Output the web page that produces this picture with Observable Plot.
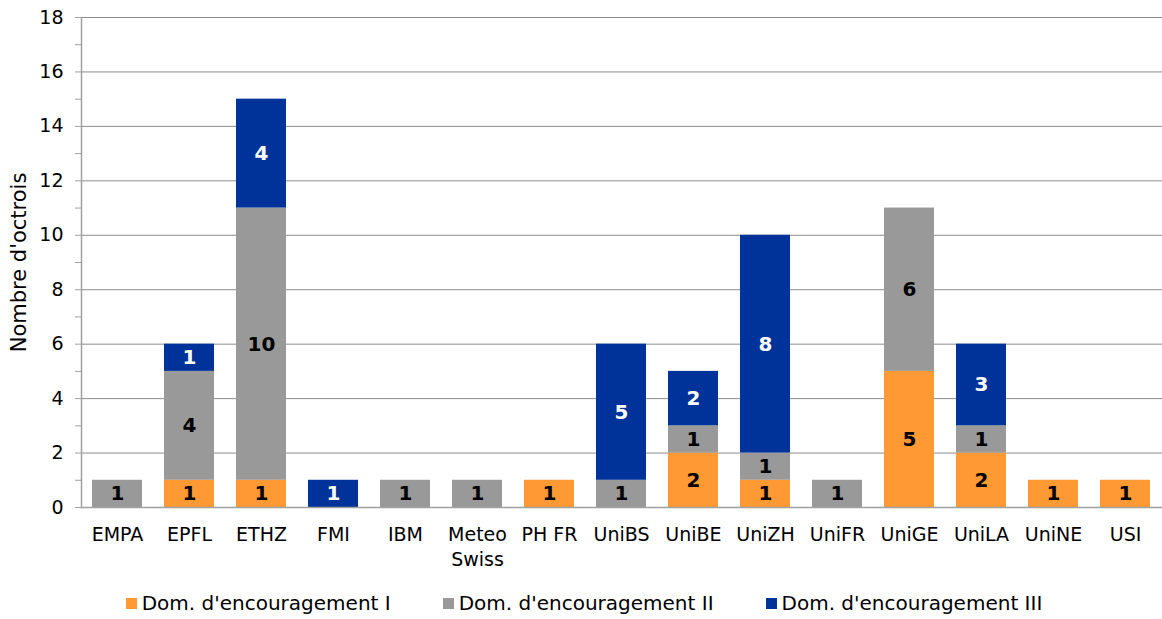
<!DOCTYPE html>
<html><head><meta charset="utf-8">
<script src="https://cdn.jsdelivr.net/npm/d3@7"></script>
<script src="https://cdn.jsdelivr.net/npm/@observablehq/plot@0.6"></script>
<style>
body{margin:0;background:#fff;font-family:"DejaVu Sans",Verdana,sans-serif;}
#legend{display:flex;justify-content:center;font-size:20px;color:#000;margin-top:17px;padding-left:6px;line-height:23px}
#legend span.item{display:flex;align-items:center;margin:0 26px}
#legend i{display:inline-block;width:11px;height:11px;margin-right:5px}
</style></head>
<body>
<div id="chart"></div>
<div id="legend"></div>
<script>
const categories = ["EMPA","EPFL","ETHZ","FMI","IBM","Meteo\nSwiss","PH FR","UniBS","UniBE","UniZH","UniFR","UniGE","UniLA","UniNE","USI"];
const seriesNames = ["Dom. d'encouragement I","Dom. d'encouragement II","Dom. d'encouragement III"];
const domI   = [0,1,1,0,0,0,1,0,2,1,0,5,2,1,1];
const domII  = [1,4,10,0,1,1,0,1,1,1,1,6,1,0,0];
const domIII = [0,1,4,1,0,0,0,5,2,8,0,0,3,0,0];
const colors = ["#FF9933","#999999","#003399"];
const majorTicks = [0,2,4,6,8,10,12,14,16,18];
const minorTicks = [1,3,5,7,9,11,13,15,17];

const table = [];
[domI, domII, domIII].forEach((vals, s) => {
  vals.forEach((v, i) => { if (v > 0) table.push({cat: categories[i], series: seriesNames[s], value: v}); });
});

const chart = Plot.plot({
  width: 1162, height: 575,
  marginLeft: 81, marginRight: 0, marginTop: 17, marginBottom: 68,
  style: {fontFamily: "'DejaVu Sans', Verdana, sans-serif", fontSize: "19px", color: "#000", background: "#fff"},
  x: {domain: categories, paddingInner: 0.3, paddingOuter: 0.15, label: null},
  y: {domain: [0, 18], label: null},
  color: {domain: seriesNames, range: colors},
  marks: [
    Plot.gridY(majorTicks, {stroke: "#8c8c8c", strokeOpacity: 1, strokeWidth: 1}),
    Plot.axisY(majorTicks, {tickSize: 6, tickPadding: 12, stroke: "#a0a0a0", fontSize: 19, label: null}),
    Plot.axisY([], {fontSize: 21, label: "Nombre d'octrois", labelAnchor: "center", labelOffset: 70, labelArrow: "none"}),
    Plot.axisY(minorTicks, {tickSize: 6, tickFormat: () => "", stroke: "#a0a0a0", label: null}),
    Plot.barY(table, Plot.stackY({x: "cat", y: "value", fill: "series", order: seriesNames})),
    Plot.text(table, Plot.stackY({x: "cat", y: "value", z: "series", order: seriesNames, text: "value",
      fill: d => d.series === seriesNames[2] ? "#fff" : "#000", fontWeight: "bold", fontSize: 20})),
    Plot.axisX({tickSize: 0, tickPadding: 16, fontSize: 19, label: null, lineHeight: 1.3}),
    Plot.ruleY([0], {stroke: "#a0a0a0", strokeWidth: 1.5}),
    Plot.frame({anchor: "left", stroke: "#a0a0a0", strokeWidth: 1.5})
  ]
});
document.getElementById("chart").appendChild(chart);

const lg = document.getElementById("legend");
seriesNames.forEach((n, i) => {
  const s = document.createElement("span"); s.className = "item";
  const sw = document.createElement("i"); sw.style.background = colors[i];
  s.appendChild(sw); s.appendChild(document.createTextNode(n)); lg.appendChild(s);
});
</script>
</body></html>
